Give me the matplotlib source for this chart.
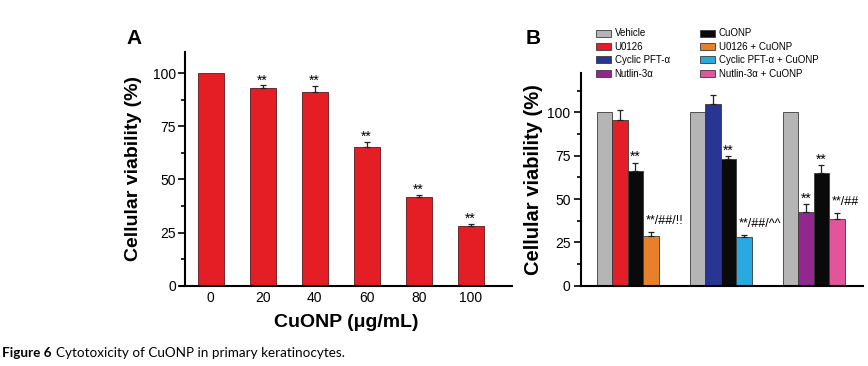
import numpy as np
import matplotlib
matplotlib.use('Agg')
import matplotlib.pyplot as plt
from matplotlib.patches import Patch
from matplotlib.ticker import MultipleLocator

plt.rcParams['font.family'] = ['Liberation Sans', 'DejaVu Sans']

# %% panel A data
conc = ['0', '20', '40', '60', '80', '100']
viab_a = [100, 93.2, 91.4, 65.4, 41.6, 28.2]
err_a = [0, 1.1, 2.5, 2.3, 1.0, 0.9]
sig_a = ['', '**', '**', '**', '**', '**']

# %% panel B data
treatments = ['Vehicle', 'U0126', 'Cyclic PFT-\u03b1', 'Nutlin-3\u03b1',
              'CuONP', 'U0126 + CuONP', 'Cyclic PFT-\u03b1 + CuONP', 'Nutlin-3\u03b1 + CuONP']
colors = ['#b5b5b5', '#e31e26', '#283593', '#92278f',
          '#0a0a0a', '#e8802a', '#2aa8e0', '#e2559a']
# each group: vehicle, inhibitor, CuONP, inhibitor + CuONP
group_vals = [[100, 95.6, 66.3, 28.8],
              [100, 104.6, 73.1, 28.3],
              [100, 42.7, 64.8, 38.3]]
group_errs = [[0, 5.7, 4.7, 2.4],
              [0, 5.2, 1.7, 0.8],
              [0, 4.5, 4.8, 3.8]]
group_sig = [['', '', '**', '**/##/!!'],
             ['', '', '**', '**/##/^^'],
             ['', '**', '**', '**/##']]
group_colors = [[0, 1, 4, 5], [0, 2, 4, 6], [0, 3, 4, 7]]


def up_errors(ax, xs, vals, errs):
    # only the upper half of the error bar, skip bars without error
    xs = np.asarray(xs, float)
    vals = np.asarray(vals, float)
    errs = np.asarray(errs, float)
    m = errs > 0
    ax.errorbar(xs[m], vals[m], yerr=[np.zeros(m.sum()), errs[m]], fmt='none',
                ecolor='#222222', elinewidth=0.9, capsize=2.2, capthick=0.9, zorder=3)


fig = plt.figure(figsize=(8.68, 3.66), dpi=100)

# ---------------- panel A
ax1 = fig.add_axes([180/868, 1-285.7/366, 331.7/868, (285.7-52)/366])
x = np.arange(len(conc))
ax1.bar(x, viab_a, width=0.5, color='#e41e24', edgecolor='#5a1a1a', linewidth=0.6, zorder=2)
up_errors(ax1, x, viab_a, err_a)
for xi, v, e, s in zip(x, viab_a, err_a, sig_a):
    if s:
        ax1.text(xi, v + e + 0.5, s, ha='center', va='baseline', fontsize=10)
ax1.set_xlim(-0.59, 5.79)
ax1.set_ylim(0, 110)
ax1.spines['left'].set_position(('data', -0.49))
ax1.spines['top'].set_visible(False)
ax1.spines['right'].set_visible(False)
for sp in ['left', 'bottom']:
    ax1.spines[sp].set_linewidth(1.5)
ax1.set_xticks(x)
ax1.set_xticklabels(conc)
ax1.set_yticks([0, 25, 50, 75, 100])
ax1.yaxis.set_minor_locator(MultipleLocator(12.5))
ax1.tick_params(axis='x', length=0, pad=4, labelsize=10)
ax1.tick_params(axis='y', which='major', length=5, width=1.2, pad=1.5, labelsize=10)
ax1.tick_params(axis='y', which='minor', length=3, width=1.2)
ax1.set_ylabel('Cellular viability (%)', fontsize=14, fontweight='bold')
ax1.yaxis.set_label_coords(-0.1146, 0.5)
ax1.set_xlabel('CuONP (\u03bcg/mL)', fontsize=14, fontweight='bold')
ax1.xaxis.set_label_coords(0.5, -0.121)
fig.text(126/868, 1-44/366, 'A', fontsize=15, fontweight='bold', va='baseline')

# ---------------- panel B
ax2 = fig.add_axes([581/868, 1-285.7/366, 281.7/868, (285.7-73.3)/366])
for g in range(3):
    xs = 6*g + 0.5 + np.arange(4)
    cols = [colors[i] for i in group_colors[g]]
    ax2.bar(xs, group_vals[g], width=1.0, color=cols, edgecolor='#3a3a3a', linewidth=0.6, zorder=2)
    up_errors(ax2, xs, group_vals[g], group_errs[g])
    for xi, v, e, s in zip(xs, group_vals[g], group_errs[g], group_sig[g]):
        if not s:
            continue
        if '/' in s:
            ax2.text(xi - 0.35, v + e + 4.5, s, ha='left', va='baseline', fontsize=9)
        else:
            ax2.text(xi, v + e + 0.8, s, ha='center', va='baseline', fontsize=10)
ax2.set_xlim(-1.01, 17.16)
ax2.set_ylim(0, 122.5)
ax2.spines['top'].set_visible(False)
ax2.spines['right'].set_visible(False)
for sp in ['left', 'bottom']:
    ax2.spines[sp].set_linewidth(1.5)
ax2.set_xticks([])
ax2.set_yticks([0, 25, 50, 75, 100])
ax2.yaxis.set_minor_locator(MultipleLocator(12.5))
ax2.tick_params(axis='y', which='major', length=5, width=1.2, pad=2.5, labelsize=10)
ax2.tick_params(axis='y', which='minor', length=3, width=1.2)
ax2.set_ylabel('Cellular viability (%)', fontsize=14.5, fontweight='bold')
ax2.yaxis.set_label_coords(-0.134, 0.5)
fig.text(526/868, 1-43.5/366, 'B', fontsize=15, fontweight='bold', va='baseline')

handles = [Patch(facecolor=c, edgecolor='#3a3a3a', linewidth=0.6) for c in colors]
fig.legend(handles, treatments, ncol=2, loc='upper left', bbox_to_anchor=(595.7/868, 1-28.5/366),
           frameon=False, fontsize=7, borderpad=0, borderaxespad=0, handlelength=1.55,
           handleheight=0.7, handletextpad=0.4, labelspacing=0.35, columnspacing=3.1)

# ---------------- caption
t1 = fig.text(2/868, 1-357/366, 'Figure 6', fontsize=9.7, fontweight='bold',
              family=['Lato', 'DejaVu Sans'], va='baseline')
fig.canvas.draw()
bb = t1.get_window_extent()
fig.text((bb.x1 + 4)/868, 1-357/366, 'Cytotoxicity of CuONP in primary keratinocytes.',
         fontsize=9.7, family=['Lato', 'DejaVu Sans'], va='baseline')

fig.savefig('out.png', dpi=100)
